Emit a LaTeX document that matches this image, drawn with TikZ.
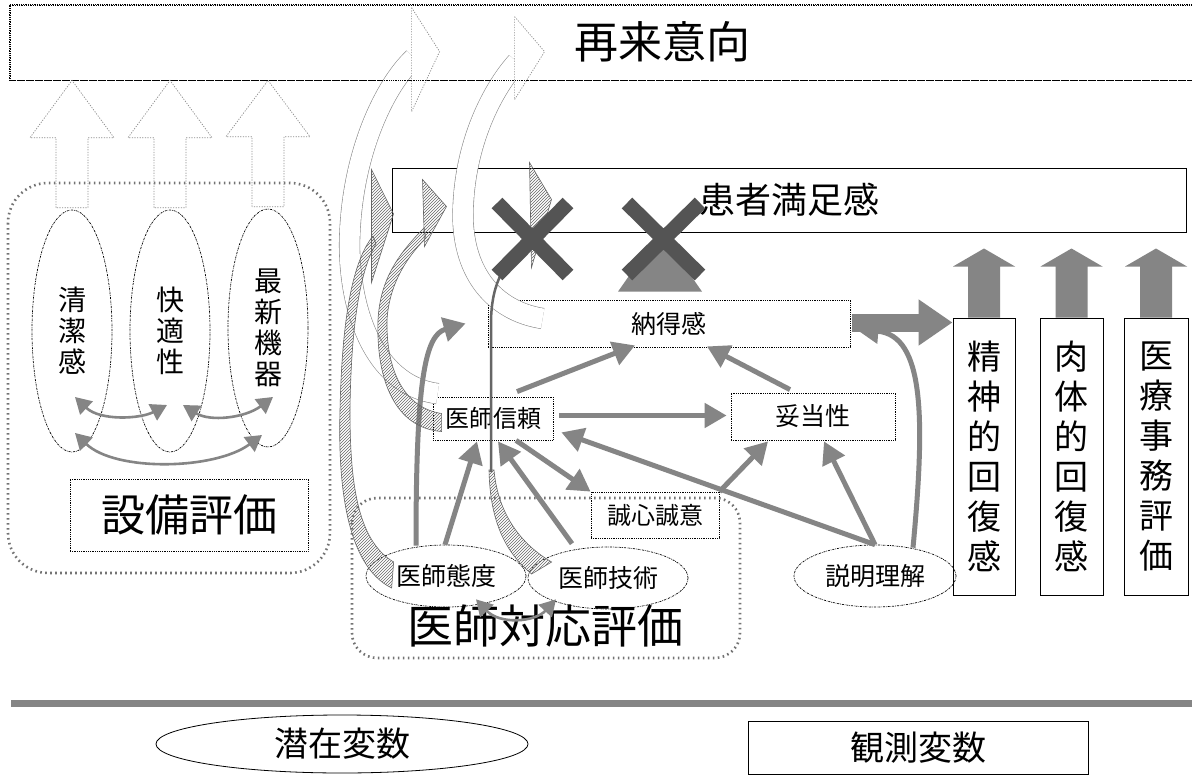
\documentclass[tikz,border=0pt]{standalone}
\usepackage{fontspec}
\setmainfont{Noto Sans CJK JP}
\usetikzlibrary{arrows.meta,shapes.geometric,calc,patterns}
\definecolor{arr}{gray}{0.52}
\definecolor{crossc}{gray}{0.33}
\definecolor{hatchc}{gray}{0.40}
\definecolor{grpc}{gray}{0.45}
\definecolor{bandc}{gray}{0.55}
\begin{document}
\begin{tikzpicture}[x=1pt,y=-1pt,
  dotbox/.style={draw=black, densely dotted, line width=0.8pt, inner sep=0pt},
  solidbox/.style={draw=black, line width=1pt, inner sep=0pt},
  latent/.style={draw=black, ellipse, dash pattern=on 2pt off 1pt on 0.6pt off 1pt, line width=0.7pt, inner sep=0pt},
  grp/.style={draw=grpc, line width=2.6pt, dash pattern=on 1.6pt off 3.4pt},
  carrow/.style={draw=arr, line width=5pt, -{Triangle[length=22pt,width=24pt]}},
  cdouble/.style={draw=arr, line width=2.6pt, {Triangle[length=16pt,width=18pt]}-{Triangle[length=16pt,width=18pt]}},
  band/.style={draw=bandc, double=white, double distance=20pt, line width=0.6pt},
  hollow/.style={draw=bandc, fill=white, line width=0.7pt, dash pattern=on 1.2pt off 1.4pt},
  hatch/.style={draw=hatchc, line width=0.6pt, pattern=north east lines, pattern color=hatchc},
  fs/.style={font=\fontsize{#1}{#1}\selectfont}
]
\useasboundingbox (0,0) rectangle (1192,784);
\fill[white] (0,0) rectangle (1192,784);

% ---- nodes ----
\node[dotbox, minimum width=1185, minimum height=75] (sairai) at (602.5,42.5) {};
\node[fs=44] (sairaitxt) at (662,42) {再来意向};
\node[solidbox, minimum width=794, minimum height=64, fs=36] (kanja) at (789,200) {患者満足感};
\node[dotbox, minimum width=362, minimum height=47, fs=25] (nattoku) at (669,323.5) {納得感};
\node[dotbox, minimum width=120, minimum height=43, fs=24] (shinrai) at (493,418.5) {医師信頼};
\node[dotbox, minimum width=164, minimum height=47, fs=25] (datou) at (813,416.5) {妥当性};
\node[dotbox, minimum width=128, minimum height=46, fs=24] (seishin) at (655,515) {誠心誠意};
\node[latent, minimum width=160, minimum height=62, fs=25] (taido) at (446,576) {医師態度};
\node[latent, minimum width=160, minimum height=62, fs=25] (gijutsu) at (608,578) {医師技術};
\node[latent, minimum width=162, minimum height=62, fs=25] (setsumei) at (875,576) {説明理解};

\node[solidbox, minimum width=62, minimum height=277, align=center, font=\fontsize{34}{40}\selectfont] (r1) at (984,456.5) {精\\神\\的\\回\\復\\感};
\node[solidbox, minimum width=63, minimum height=277, align=center, font=\fontsize{34}{40}\selectfont] (r2) at (1071.5,456.5) {肉\\体\\的\\回\\復\\感};
\node[solidbox, minimum width=64, minimum height=277, align=center, font=\fontsize{34}{40}\selectfont] (r3) at (1156,456.5) {医\\療\\事\\務\\評\\価};

\node[latent, minimum width=80, minimum height=242, align=center, font=\fontsize{28}{31}\selectfont] (e1) at (72,331) {清\\潔\\感};
\node[latent, minimum width=80, minimum height=242, align=center, font=\fontsize{28}{31}\selectfont] (e2) at (170,331) {快\\適\\性};
\node[latent, minimum width=80, minimum height=238, align=center, font=\fontsize{28}{31}\selectfont] (e3) at (268,328) {最\\新\\機\\器};
\node[dotbox, minimum width=238, minimum height=72, fs=44] (setsubi) at (189,515) {設備評価};

% ---- groups ----
\draw[grp, rounded corners=40pt] (8,183) rectangle (330,573);
\draw[grp, rounded corners=25pt] (352,498) rectangle (740,658);
\node[fs=46] (taiou) at (545,626) {医師対応評価};

% ---- hollow curved arrows to 再来意向 ----
\draw[band] ($(shinrai.north west)+(5,-3)$) .. controls (370,385) and (346,300) .. (350,230) .. controls (354,150) and (385,85) .. (414,58);
\draw[hollow] ($(sairai.north west)+(402,3)$) -- ($(sairai.north west)+(430,47)$) -- ($(sairai.north west)+(402,107)$) -- cycle;
\draw[band] ($(nattoku.west)+(55,-5)$) .. controls (500,312) and (465,280) .. (463,220) .. controls (462,150) and (490,92) .. (517,62);
\draw[hollow] ($(sairai.north west)+(505,12)$) -- ($(sairai.north west)+(535,47)$) -- ($(sairai.north west)+(505,95)$) -- cycle;
\draw[densely dotted, line width=0.8pt] (sairai.north west) rectangle (sairai.south east);

% ---- 設備 block arrows ----
\foreach \nd in {e1,e2,e3}{
  \draw[hollow, fill=none] ($(\nd.north)+(-16,-2)$) -- ($(\nd.north)+(-16,-72)$) -- ($(\nd.north)+(-42,-72)$) -- (\nd.north |- sairai.south) -- ($(\nd.north)+(42,-72)$) -- ($(\nd.north)+(16,-72)$) -- ($(\nd.north)+(16,-2)$) -- cycle;
}
\draw[cdouble] ($(e1.center)+(3,66)$) .. controls (100,421) and (140,419) .. ($(e2.center)+(-3,74)$);
\draw[cdouble] ($(e2.center)+(13,74)$) .. controls (210,422) and (245,418) .. ($(e3.center)+(5,69)$);
\draw[cdouble] ($(e1.center)+(3,102)$) .. controls (115,472) and (215,470) .. ($(e3.center)+(-6,107)$);

% ---- right up arrows ----
\foreach \nd in {r1,r2,r3}{
  \fill[arr] ($(\nd.north)+(-16,0)$) -- ($(\nd.north)+(-16,-51)$) -- ($(\nd.north)+(-31,-51)$) -- ($(\nd.north)+(0,-69)$) -- ($(\nd.north)+(31,-51)$) -- ($(\nd.north)+(16,-51)$) -- ($(\nd.north)+(16,0)$) -- cycle;
}

% ---- structural arrows ----
\draw[carrow] ($(shinrai.north)+(24,-5)$) -- ($(nattoku.south)+(-34,-2)$);
\draw[carrow] ($(datou.north)+(-23,-3)$) -- ($(nattoku.south)+(38,-1)$);
\draw[carrow] ($(shinrai.east)+(6,-3)$) -- ($(datou.west)+(-4,-1)$);
\draw[carrow] (setsumei.north) -- ($(shinrai.south east)+(8,-8)$);
\draw[carrow] (setsumei.north) -- ($(datou.south)+(11,1)$);
\draw[carrow] (seishin.north east) -- ($(datou.south)+(-45,1)$);
\draw[carrow] ($(shinrai.south)+(23,0)$) -- (seishin.north west);
\draw[carrow] ($(taido.north)+(-1,0)$) -- ($(shinrai.south)+(-16,1)$);
\draw[carrow] ($(gijutsu.north)+(-36,-3)$) -- ($(shinrai.south)+(5,1)$);
\draw[carrow] ($(taido.north)+(-30,1)$) .. controls (416,380) and (425,335) .. ($(nattoku.west)+(-22,0)$);
\draw[carrow] ($(setsumei.north)+(38,3)$) .. controls (925,420) and (925,335) .. ($(nattoku.east)+(6,6)$);
\draw[arr, line width=18pt, -{Triangle[length=34pt,width=44pt]}] ($(nattoku.east)+(2,-1)$) -- ($(r1.west |- nattoku.east)+(0,-1)$);
\draw[cdouble] ($(taido.south)+(30,-8)$) .. controls (500,625) and (535,622) .. ($(gijutsu.south)+(-52,-10)$);

% ---- hatched paths to 患者満足感 ----
\draw[hatch] ($(taido.west)+(26,12)$) .. controls (345,565) and (338,480) .. (340,410) .. controls (342,320) and (352,262) .. (373,236) -- (376,244) .. controls (361,268) and (351,322) .. (350,410) .. controls (350,478) and (356,540) .. ($(taido.west)+(28,-14)$) -- cycle;
\draw[hatch] ($(kanja.north west)+(-20,2)$) -- ($(kanja.west)+(2,14)$) -- ($(kanja.north west)+(-20,115)$) -- cycle;
\draw[hatch] ($(shinrai.west)+(9,13)$) .. controls (395,428) and (376,380) .. (378,320) .. controls (380,282) and (396,256) .. (424,228) -- (426,238) .. controls (404,260) and (389,287) .. (387,320) .. controls (386,372) and (405,408) .. ($(shinrai.west)+(9,-5)$) -- cycle;
\draw[hatch] ($(kanja.north west)+(31,12)$) -- ($(kanja.north west)+(55,39)$) -- ($(kanja.north west)+(33,79)$) -- cycle;
\draw[hatchc, line width=2.5pt] (531,245) .. controls (505,258) and (492,282) .. (491,320) -- (491,472);
\draw[hatch] (489,470) .. controls (490,522) and (506,553) .. ($(gijutsu.west)+(4,-4)$) -- ($(gijutsu.west)+(24,-16)$) .. controls (522,545) and (498,515) .. (494,470) -- cycle;
\draw[hatch] ($(kanja.north west)+(138,-5)$) -- ($(kanja.north west)+(160,32)$) -- ($(kanja.north west)+(140,100)$) -- cycle;
\fill[arr] ($(nattoku.north)+(-51,-8)$) -- ($(nattoku.north)+(-9,-68)$) -- ($(nattoku.north)+(33,-8)$) -- cycle;

% ---- crosses ----
\draw[crossc, line width=15pt] (497,203) -- (568,275) (568,203) -- (497,275);
\draw[crossc, line width=15pt] (627,203) -- (700,275) (700,203) -- (627,275);

% ---- legend ----
\fill[arr] (11,700) rectangle (1192,707);
\node[draw, ellipse, line width=0.8pt, minimum width=372, minimum height=58, fs=34] (lat) at (342,744) {潜在変数};
\node[draw, line width=0.8pt, minimum width=340, minimum height=53, fs=34] (obs) at (918,748) {観測変数};
\end{tikzpicture}
\end{document}
